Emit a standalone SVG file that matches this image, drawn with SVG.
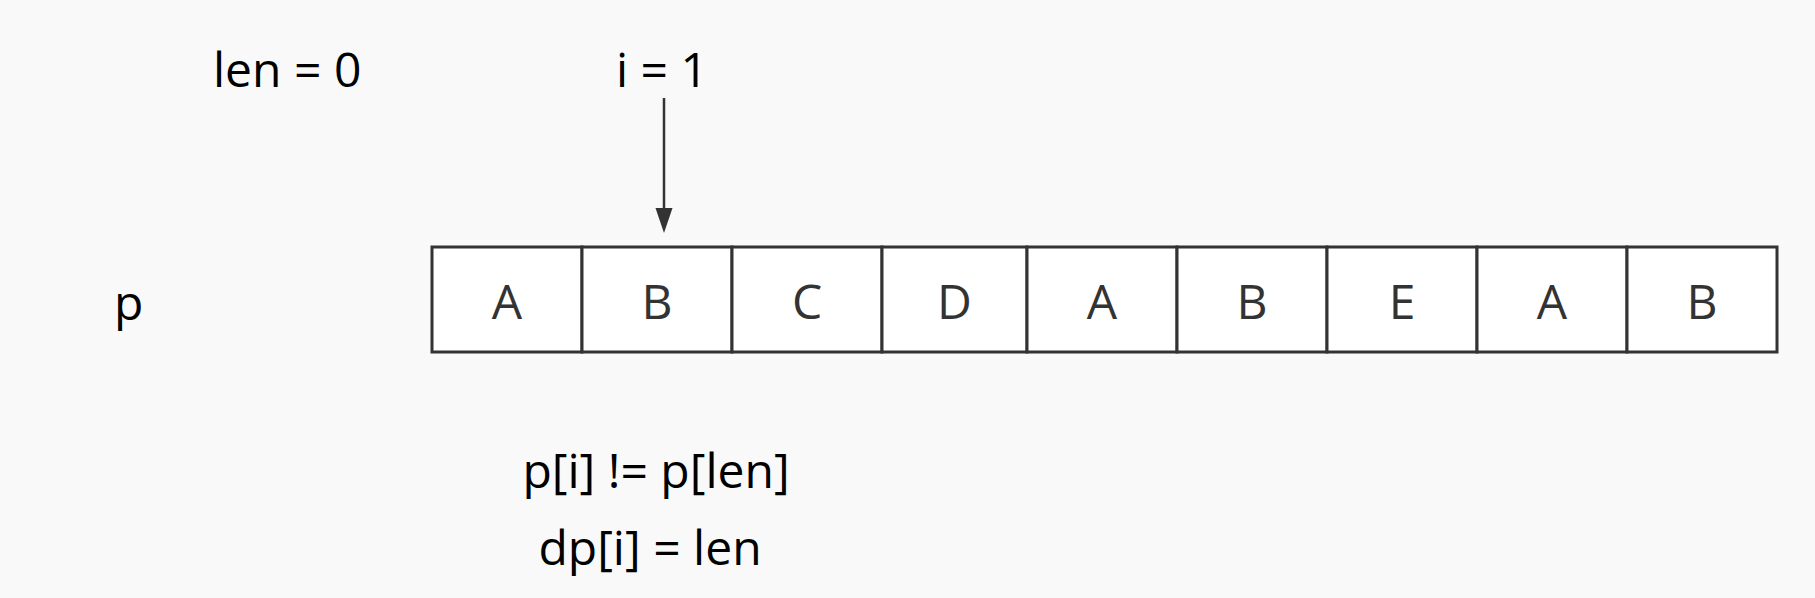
<svg xmlns="http://www.w3.org/2000/svg" width="1815" height="598" viewBox="0 0 1815 598">
<defs>
<style>
.lbl{font-family:"Open Sans","Noto Sans",sans-serif;font-size:48px;fill:#000}
.cell rect{fill:#fff;stroke:#333;stroke-width:3}
.cell text{font-family:"Open Sans","Noto Sans",sans-serif;font-size:48px;fill:#333;text-anchor:middle}
.conn{stroke:#333;stroke-width:2.5;fill:none}
</style>
<marker id="ah" viewBox="0 0 17 25" refX="17" refY="8.5" markerWidth="17" markerHeight="25" markerUnits="userSpaceOnUse" orient="auto">
<path d="M0,0 L25,8.5 L0,17 Z" fill="#333"/>
</marker>
</defs>
<rect width="1815" height="598" fill="#f9f9f9"/>
<g id="label-len"><text class="lbl" x="213" y="87">len = 0</text></g>
<g id="label-i"><text class="lbl" x="616" y="87">i = 1</text></g>
<g id="label-p"><text class="lbl" x="114" y="320">p</text></g>
<g id="cond"><text class="lbl" x="656" y="488" text-anchor="middle">p[i] != p[len]</text></g>
<g id="assign"><text class="lbl" x="650" y="565" text-anchor="middle">dp[i] = len</text></g>
<g id="cell0" class="cell"><rect x="432" y="247" width="150" height="105"/><text x="507" y="319">A</text></g>
<g id="cell1" class="cell"><rect x="582" y="247" width="150" height="105"/><text x="657" y="319">B</text></g>
<g id="cell2" class="cell"><rect x="732" y="247" width="150" height="105"/><text x="807" y="319">C</text></g>
<g id="cell3" class="cell"><rect x="882" y="247" width="145" height="105"/><text x="954.5" y="319">D</text></g>
<g id="cell4" class="cell"><rect x="1027" y="247" width="150" height="105"/><text x="1102" y="319">A</text></g>
<g id="cell5" class="cell"><rect x="1177" y="247" width="150" height="105"/><text x="1252" y="319">B</text></g>
<g id="cell6" class="cell"><rect x="1327" y="247" width="150" height="105"/><text x="1402" y="319">E</text></g>
<g id="cell7" class="cell"><rect x="1477" y="247" width="150" height="105"/><text x="1552" y="319">A</text></g>
<g id="cell8" class="cell"><rect x="1627" y="247" width="150" height="105"/><text x="1702" y="319">B</text></g>
<g id="connectors">
<line class="conn" x1="664" y1="98" x2="664" y2="210"/>
<path d="M655.5,208 L672.5,208 L664,233 Z" fill="#333"/>
</g>
</svg>
